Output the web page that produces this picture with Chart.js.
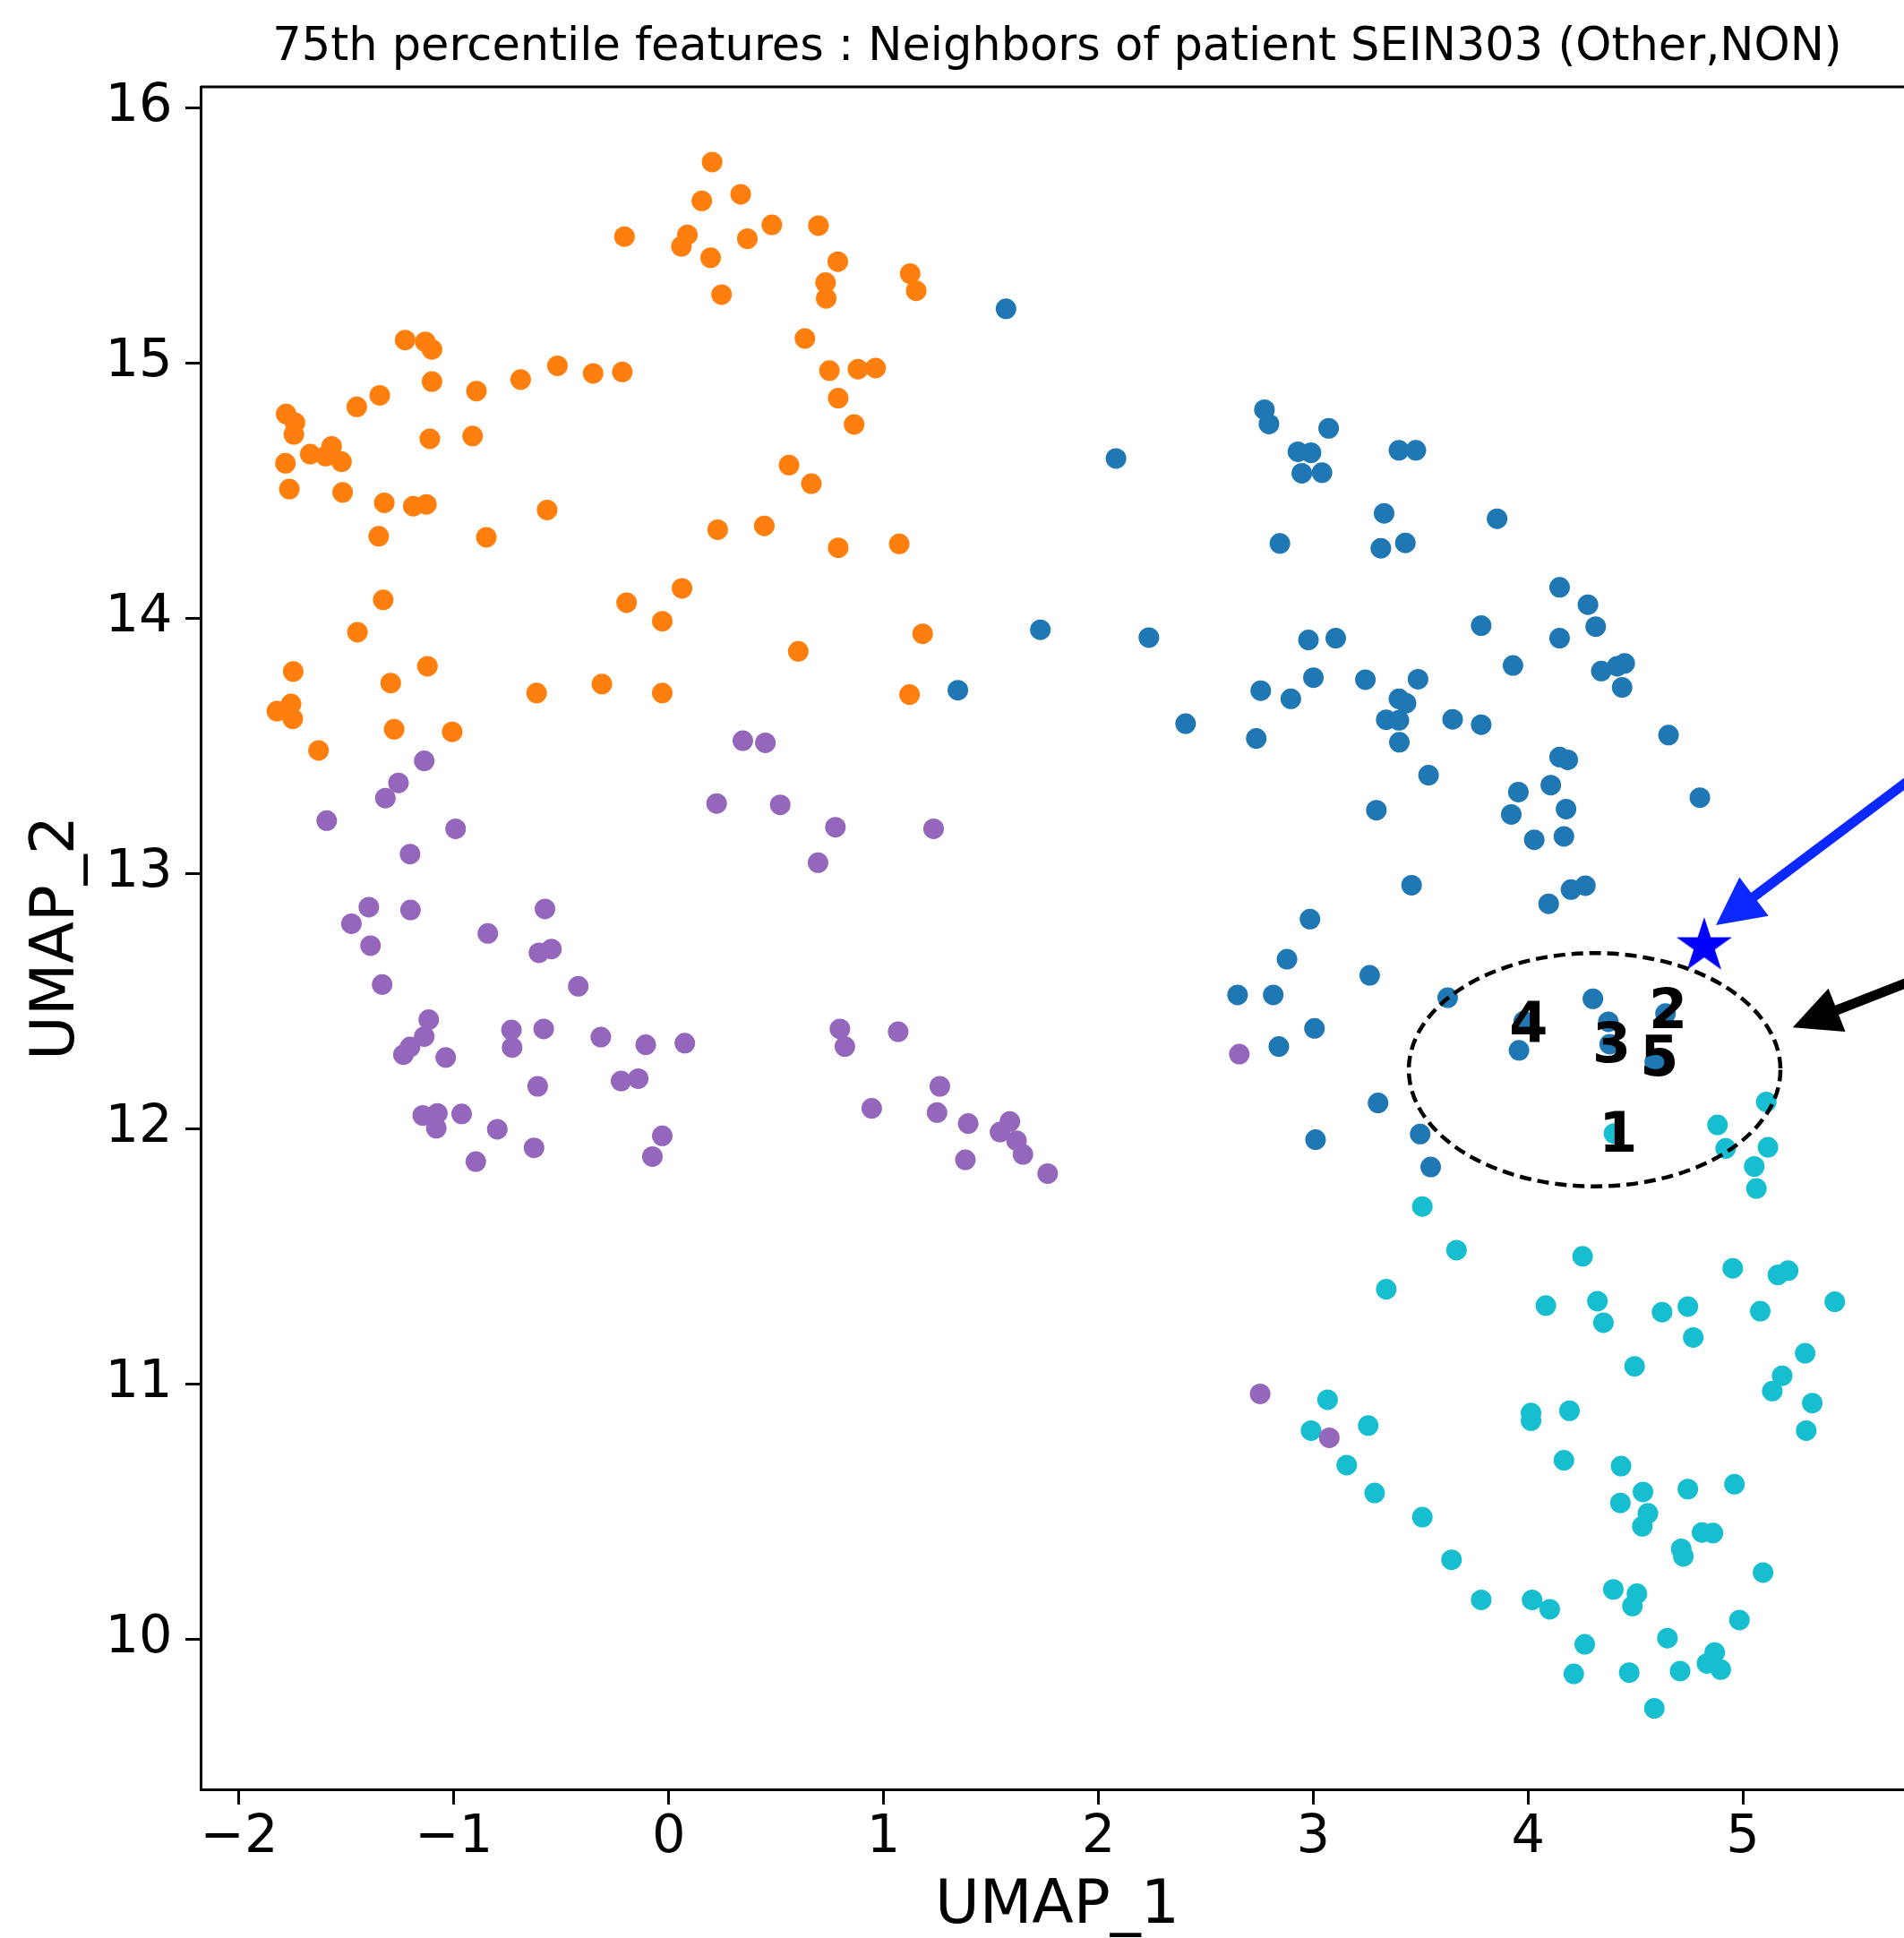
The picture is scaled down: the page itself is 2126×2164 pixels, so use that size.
<!DOCTYPE html>
<html>
<head>
<meta charset="utf-8">
<script src="https://cdn.jsdelivr.net/npm/chart.js@4.4.1/dist/chart.umd.min.js"></script>
<style>
  html, body { margin: 0; padding: 0; overflow: hidden; background: #fff; }
  canvas { display: block; }
</style>
</head>
<body>
<canvas id="umap" width="2300" height="2250"></canvas>
<script>
// UMAP embedding, one pair of arrays per cluster
const orangeX = [0.202, 0.335, 0.154, -0.206, 0.087, 0.059, 0.366, 0.480, 0.697, 0.195,
  0.787, 0.730, 0.733, 1.124, 1.152, 0.246, -1.227, -1.133, -1.102, 0.634,
  -1.102, -0.895, -0.689, -0.518, -0.352, -0.216, 0.748, 0.881, 0.963, 0.789,
  0.863, -1.345, -1.452, -1.781, -1.740, -1.745, -1.569, -1.669, -1.597, -1.523,
  -1.784, -1.766, -1.518, -1.112, -0.913, -1.324, -1.189, -1.128, -0.566, -1.350,
  -0.849, 0.560, 0.664, 0.228, 0.445, 0.789, 1.073, -1.329, -1.449, -0.196,
  0.062, -0.030, 1.182, 0.603, -1.748, -1.123, -1.294, -0.615, -0.311, -0.030,
  1.121, -1.758, -1.824, -1.750, -1.278, -1.008, -1.630];
const orangeY = [15.786, 15.660, 15.634, 15.494, 15.501, 15.456, 15.486, 15.540, 15.537, 15.411,
  15.396, 15.314, 15.252, 15.349, 15.282, 15.267, 15.089, 15.082, 15.052, 15.095,
  14.926, 14.889, 14.934, 14.988, 14.958, 14.964, 14.969, 14.975, 14.979, 14.861,
  14.758, 14.872, 14.827, 14.799, 14.765, 14.719, 14.672, 14.642, 14.634, 14.612,
  14.606, 14.505, 14.492, 14.702, 14.713, 14.451, 14.438, 14.445, 14.423, 14.320,
  14.316, 14.599, 14.526, 14.346, 14.361, 14.275, 14.290, 14.071, 13.944, 14.060,
  14.116, 13.987, 13.938, 13.869, 13.790, 13.811, 13.745, 13.706, 13.741, 13.706,
  13.700, 13.663, 13.635, 13.605, 13.564, 13.554, 13.481];

const blueX = [1.570, 1.730, 1.346, 2.082, 2.773, 2.794, 3.072, 2.929, 2.990, 2.947,
  3.041, 3.399, 3.478, 3.330, 3.856, 2.845, 3.315, 3.429, 4.147, 4.279,
  4.315, 4.147, 3.782, 2.235, 2.978, 3.105, 3.930, 4.341, 4.415, 4.450,
  4.438, 2.756, 2.896, 3.001, 3.243, 3.488, 3.399, 3.432, 3.340, 3.399,
  3.401, 3.649, 3.782, 2.406, 2.735, 4.654, 4.147, 4.185, 3.537, 4.106,
  3.955, 3.294, 3.922, 4.177, 4.029, 4.167, 4.800, 3.458, 4.200, 4.267,
  4.096, 2.985, 2.878, 3.263, 2.648, 2.814, 3.006, 2.840, 3.302, 3.011,
  3.498, 3.547, 3.626, 4.302, 4.374, 4.380, 4.640, 4.590, 3.980, 3.958];
const blueY = [15.211, 13.954, 13.717, 14.625, 14.816, 14.760, 14.743, 14.651, 14.647, 14.567,
  14.569, 14.657, 14.657, 14.410, 14.389, 14.292, 14.273, 14.294, 14.120, 14.052,
  13.966, 13.921, 13.970, 13.923, 13.914, 13.921, 13.814, 13.792, 13.811, 13.822,
  13.728, 13.715, 13.683, 13.766, 13.758, 13.760, 13.683, 13.666, 13.601, 13.599,
  13.513, 13.603, 13.582, 13.586, 13.528, 13.541, 13.455, 13.444, 13.384, 13.345,
  13.318, 13.247, 13.230, 13.251, 13.131, 13.144, 13.296, 12.953, 12.936, 12.951,
  12.880, 12.820, 12.663, 12.600, 12.523, 12.523, 12.392, 12.321, 12.100, 11.956,
  11.978, 11.849, 12.512, 12.508, 12.418, 12.330, 12.450, 12.260, 12.420, 12.306];

const purpleX = [0.345, 0.450, -1.138, -1.258, -1.319, -1.592, -0.992, 0.223, 0.519, 0.776,
  1.233, -1.204, 0.695, -1.396, -1.202, -1.477, -0.576, -0.842, -1.388, -0.604,
  -0.546, -1.334, -0.421, -1.117, -1.138, -1.204, -1.235, -1.038, -0.732, -0.729,
  -0.582, -0.316, -0.107, 0.075, -0.610, -0.222, -0.142, -1.145, -1.077, -1.082,
  -0.964, -0.798, -0.627, -0.898, -0.030, -0.076, 0.797, 0.820, 1.068, 1.262,
  0.945, 1.249, 1.394, 1.588, 1.542, 1.619, 1.649, 1.381, 1.764, 2.656,
  2.753, 3.075];
const purpleY = [13.519, 13.511, 13.440, 13.354, 13.294, 13.206, 13.174, 13.273, 13.268, 13.180,
  13.174, 13.075, 13.041, 12.867, 12.856, 12.802, 12.860, 12.764, 12.716, 12.688,
  12.703, 12.564, 12.557, 12.426, 12.360, 12.319, 12.289, 12.278, 12.386, 12.317,
  12.390, 12.358, 12.328, 12.334, 12.165, 12.186, 12.195, 12.051, 12.059, 12.001,
  12.057, 11.997, 11.924, 11.870, 11.971, 11.890, 12.390, 12.321, 12.379, 12.165,
  12.079, 12.062, 12.019, 12.027, 11.986, 11.952, 11.898, 11.877, 11.823, 12.291,
  10.960, 10.788];

const cyanX = [4.400, 5.109, 4.882, 4.920, 5.117, 5.053, 5.063, 3.508, 3.667, 3.340,
  4.254, 4.953, 5.163, 5.211, 5.428, 4.083, 4.323, 4.351, 4.624, 4.744,
  4.769, 5.081, 4.496, 5.290, 5.183, 5.137, 5.323, 5.295, 3.067, 2.990,
  3.256, 3.156, 3.286, 3.508, 3.644, 3.782, 4.014, 4.014, 4.193, 4.167,
  4.433, 4.535, 4.744, 4.961, 4.430, 4.558, 4.532, 4.810, 4.861, 4.713,
  4.723, 5.094, 4.019, 4.101, 4.397, 4.507, 4.486, 4.984, 4.649, 4.264,
  4.213, 4.471, 4.708, 4.869, 4.833, 4.897, 4.588];
const cyanY = [11.980, 12.104, 12.014, 11.922, 11.926, 11.851, 11.765, 11.694, 11.523, 11.370,
  11.499, 11.452, 11.426, 11.443, 11.321, 11.306, 11.323, 11.239, 11.280, 11.302,
  11.181, 11.284, 11.068, 11.119, 11.031, 10.971, 10.924, 10.816, 10.937, 10.816,
  10.836, 10.681, 10.572, 10.477, 10.310, 10.153, 10.885, 10.855, 10.894, 10.700,
  10.677, 10.576, 10.587, 10.606, 10.533, 10.492, 10.441, 10.417, 10.415, 10.353,
  10.323, 10.260, 10.153, 10.116, 10.194, 10.177, 10.129, 10.074, 10.003, 9.979,
  9.863, 9.868, 9.874, 9.947, 9.904, 9.880, 9.728];

// the query patient and its five nearest neighbours
const patientX = [4.820];
const patientY = [12.714];
const neighborRank = ['1', '2', '3', '4', '5'];
const neighborX = [4.420, 4.652, 4.389, 4.003, 4.611];
const neighborY = [11.966, 12.451, 12.315, 12.396, 12.262];

const xTicks = [-2, -1, 0, 1, 2, 3, 4, 5];
const yTicks = [10, 11, 12, 13, 14, 15, 16];

const FONT = 'DejaVu Sans';
const toPoints = (xs, ys) => xs.map((x, i) => ({x: x, y: ys[i]}));
const fmtTick = v => (v < 0 ? '\u2212' + Math.abs(v) : String(v));

function starMarker(r, color) {
  const c = document.createElement('canvas');
  const s = Math.ceil(r * 2 + 4);
  c.width = s;
  c.height = s;
  const g = c.getContext('2d');
  g.fillStyle = color;
  g.beginPath();
  for (let i = 0; i < 10; i++) {
    const rad = i % 2 ? r * 0.381966 : r;
    const a = -Math.PI / 2 + i * Math.PI / 5;
    g.lineTo(s / 2 + rad * Math.cos(a), s / 2 + rad * Math.sin(a));
  }
  g.closePath();
  g.fill();
  return c;
}

function arrow(ctx, x0, y0, x1, y1, color, width, headLen, headHalf) {
  const a = Math.atan2(y1 - y0, x1 - x0);
  const bx = x1 - headLen * Math.cos(a), by = y1 - headLen * Math.sin(a);
  ctx.save();
  ctx.strokeStyle = color;
  ctx.fillStyle = color;
  ctx.lineWidth = width;
  ctx.beginPath();
  ctx.moveTo(x0, y0);
  ctx.lineTo(bx + 2 * Math.cos(a), by + 2 * Math.sin(a));
  ctx.stroke();
  ctx.beginPath();
  ctx.moveTo(x1, y1);
  ctx.lineTo(bx + headHalf * Math.sin(a), by - headHalf * Math.cos(a));
  ctx.lineTo(bx - headHalf * Math.sin(a), by + headHalf * Math.cos(a));
  ctx.closePath();
  ctx.fill();
  ctx.restore();
}

const annotations = {
  id: 'annotations',
  afterDatasetsDraw(chart) {
    const {ctx, chartArea: area, scales: {x, y}} = chart;
    ctx.save();

    // frame on the top and right
    ctx.strokeStyle = '#000';
    ctx.lineWidth = 3;
    ctx.beginPath();
    ctx.moveTo(area.left, area.top);
    ctx.lineTo(area.right, area.top);
    ctx.lineTo(area.right, area.bottom);
    ctx.stroke();

    // title
    ctx.fillStyle = '#000';
    ctx.font = '51px "' + FONT + '"';
    ctx.textAlign = 'center';
    ctx.textBaseline = 'alphabetic';
    ctx.fillText('75th percentile features : Neighbors of patient SEIN303 (Other,NON)',
      (area.left + area.right) / 2, 67);

    // dashed ring around the neighbours
    const cx = x.getPixelForValue(4.31), cy = y.getPixelForValue(12.23);
    const rx = x.getPixelForValue(4.31 + 0.865) - cx;
    const ry = cy - y.getPixelForValue(12.23 + 0.457);
    ctx.setLineDash([13, 7]);
    ctx.lineWidth = 4.5;
    ctx.beginPath();
    ctx.ellipse(cx, cy, rx, ry, 0, 0, Math.PI * 2);
    ctx.stroke();
    ctx.setLineDash([]);

    // neighbour ranks
    ctx.font = 'bold 62px "' + FONT + '"';
    ctx.textBaseline = 'middle';
    neighborRank.forEach((t, i) => {
      ctx.fillText(t, x.getPixelForValue(neighborX[i]), y.getPixelForValue(neighborY[i]));
    });

    // pointers coming in from the right margin
    arrow(ctx, x.getPixelForValue(6.48), y.getPixelForValue(13.81),
      x.getPixelForValue(4.875), y.getPixelForValue(12.797), '#0a28ff', 11, 53, 27);
    arrow(ctx, x.getPixelForValue(6.48), y.getPixelForValue(12.807),
      x.getPixelForValue(5.232), y.getPixelForValue(12.396), '#000', 11, 53, 26);
    ctx.restore();
  }
};

const axisFont = {family: FONT, size: 59};
const labelFont = {family: FONT, size: 68};

new Chart(document.getElementById('umap'), {
  type: 'scatter',
  data: {
    datasets: [
      {label: 'Other', data: toPoints(blueX, blueY), backgroundColor: '#1f77b4'},
      {label: 'cluster 1', data: toPoints(orangeX, orangeY), backgroundColor: '#ff7f0e'},
      {label: 'cluster 4', data: toPoints(purpleX, purpleY), backgroundColor: '#9467bd'},
      {label: 'cluster 9', data: toPoints(cyanX, cyanY), backgroundColor: '#17becf'},
      {label: 'SEIN303', data: toPoints(patientX, patientY),
        pointStyle: starMarker(32.6, '#0000ff'), pointRadius: 33}
    ]
  },
  options: {
    responsive: false,
    animation: false,
    devicePixelRatio: 1,
    layout: {padding: {left: 0, top: 97, right: 163, bottom: 0}},
    elements: {point: {radius: 11.5, borderWidth: 0, hoverRadius: 11.5}},
    plugins: {legend: {display: false}, tooltip: {enabled: false}},
    scales: {
      x: {
        type: 'linear', min: -2.179, max: 5.796,
        afterBuildTicks: s => { s.ticks = xTicks.map(v => ({value: v})); },
        afterFit: s => { s.height = 252; },
        grid: {drawOnChartArea: false, tickLength: 17, tickWidth: 3, tickColor: '#000'},
        border: {display: true, color: '#000', width: 3},
        ticks: {font: axisFont, color: '#000', padding: 2, maxRotation: 0, autoSkip: false, callback: fmtTick},
        title: {display: true, text: 'UMAP_1', font: labelFont, color: '#000', padding: {top: 0, bottom: 80}}
      },
      y: {
        type: 'linear', min: 9.4107, max: 16.0807,
        afterBuildTicks: s => { s.ticks = yTicks.map(v => ({value: v})); },
        afterFit: s => { s.width = 224; },
        grid: {drawOnChartArea: false, tickLength: 17, tickWidth: 3, tickColor: '#000'},
        border: {display: true, color: '#000', width: 3},
        ticks: {font: axisFont, color: '#000', padding: 14.5, autoSkip: false, callback: fmtTick},
        title: {display: true, text: 'UMAP_2', font: labelFont, color: '#000', padding: {top: 24, bottom: 0}}
      }
    }
  },
  plugins: [annotations]
});
</script>
</body>
</html>
